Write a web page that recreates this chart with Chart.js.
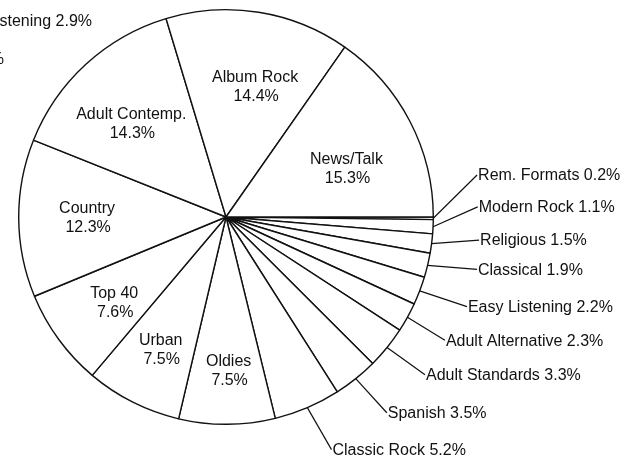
<!DOCTYPE html>
<html>
<head>
<meta charset="utf-8">
<script src="https://cdn.jsdelivr.net/npm/chart.js@4.4.1/dist/chart.umd.min.js"></script>
<style>
  html, body { margin: 0; padding: 0; background: #ffffff; }
  #wrap { width: 626px; height: 459px; position: relative; }
</style>
</head>
<body>
<div id="wrap"><canvas id="formatPie" width="626" height="459"></canvas></div>
<script>
// station formats, listed clockwise starting from 3 o'clock
const formats = [
    "Rem. Formats", "Modern Rock", "Religious", "Classical", "Easy Listening",
    "Adult Alternative", "Adult Standards", "Spanish", "Classic Rock",
    "Oldies", "Urban", "Top 40", "Country", "Adult Contemp.", "Album Rock", "News/Talk"
];
const shares = [0.2, 1.1, 1.5, 1.9, 2.2, 2.3, 3.3, 3.5, 5.2, 7.5, 7.5, 7.6, 12.3, 14.3, 14.4, 15.3];
// big slices get their label inside, the rest hang outside on a leader line
const insideLabels = ["Oldies", "Urban", "Top 40", "Country", "Adult Contemp.", "Album Rock", "News/Talk"];

// label placement: inside -> [radius factor, angle nudge deg], outside -> [radius factor, angle deg]
const insideSpot = {
    "News/Talk": [0.625, 5.9],
    "Album Rock": [0.64, 3.6],
    "Adult Contemp.": [0.64, -3],
    "Country": [0.67, 0],
    "Top 40": [0.68, -1.4],
    "Urban": [0.716, -0.6],
    "Oldies": [0.745, -0.7]
};
const outsideSpot = {
    "Rem. Formats": [1.228, -9.5],
    "Modern Rock": [1.215, -2.3],
    "Religious": [1.226, 5.2],
    "Classical": [1.237, 11.8],
    "Easy Listening": [1.24, 20.4],
    "Adult Alternative": [1.212, 29.4],
    "Adult Standards": [1.225, 38.4],
    "Spanish": [1.222, 50.6],
    "Classic Rock": [1.232, 65.6]
};

const FONT = '16px "Liberation Sans", Arial, sans-serif';
const INK = "#111111";

const pieLabels = {
    id: "pieLabels",
    afterDatasetsDraw(chart) {
        const ctx = chart.ctx;
        const arcs = chart.getDatasetMeta(0).data;
        ctx.save();
        ctx.font = FONT;
        ctx.fillStyle = INK;
        ctx.strokeStyle = INK;
        ctx.lineWidth = 1.2;
        arcs.forEach(function (arc, i) {
            const p = arc.getProps(["x", "y", "startAngle", "endAngle", "outerRadius"], true);
            const name = formats[i];
            const pct = shares[i].toFixed(1) + "%";
            const mid = (p.startAngle + p.endAngle) / 2;
            if (insideLabels.includes(name)) {
                const s = insideSpot[name];
                const a = mid + s[1] * Math.PI / 180;
                const lx = p.x + Math.cos(a) * p.outerRadius * s[0];
                const ly = p.y + Math.sin(a) * p.outerRadius * s[0];
                ctx.textAlign = "center";
                ctx.textBaseline = "middle";
                ctx.fillText(name, lx, ly - 9.5);
                ctx.fillText(pct, lx + 1, ly + 9.5);
            } else {
                const s = outsideSpot[name];
                const a = s[1] * Math.PI / 180;
                const sx = p.x + Math.cos(mid) * p.outerRadius;
                const sy = p.y + Math.sin(mid) * p.outerRadius;
                const ex = p.x + Math.cos(a) * p.outerRadius * s[0];
                const ey = p.y + Math.sin(a) * p.outerRadius * s[0];
                ctx.beginPath();
                ctx.moveTo(sx, sy);
                ctx.lineTo(ex, ey);
                ctx.stroke();
                ctx.textAlign = "left";
                ctx.textBaseline = "middle";
                ctx.fillText(name + " " + pct, ex + 1, ey + 1);
            }
        });
        // text of the neighbouring panel that runs off the left edge
        ctx.textAlign = "right";
        ctx.textBaseline = "middle";
        ctx.fillText("Listening 2.9%", 92, 22);
        ctx.fillText("%", 4, 60);
        ctx.restore();
    }
};

const ctx = document.getElementById("formatPie").getContext("2d");
const formatChart = new Chart(ctx, {
    type: "pie",
    data: {
        labels: formats,
        datasets: [
            {
                data: shares,
                backgroundColor: "#ffffff",
                borderColor: INK,
                borderWidth: 1.4,
            },
        ],
    },
    options: {
        responsive: false,
        animation: false,
        rotation: 90,
        layout: {
            padding: { left: 18, right: 192, top: 9, bottom: 34 }
        },
        plugins: {
            legend: { display: false },
            tooltip: { enabled: false }
        }
    },
    plugins: [pieLabels]
});
</script>
</body>
</html>
